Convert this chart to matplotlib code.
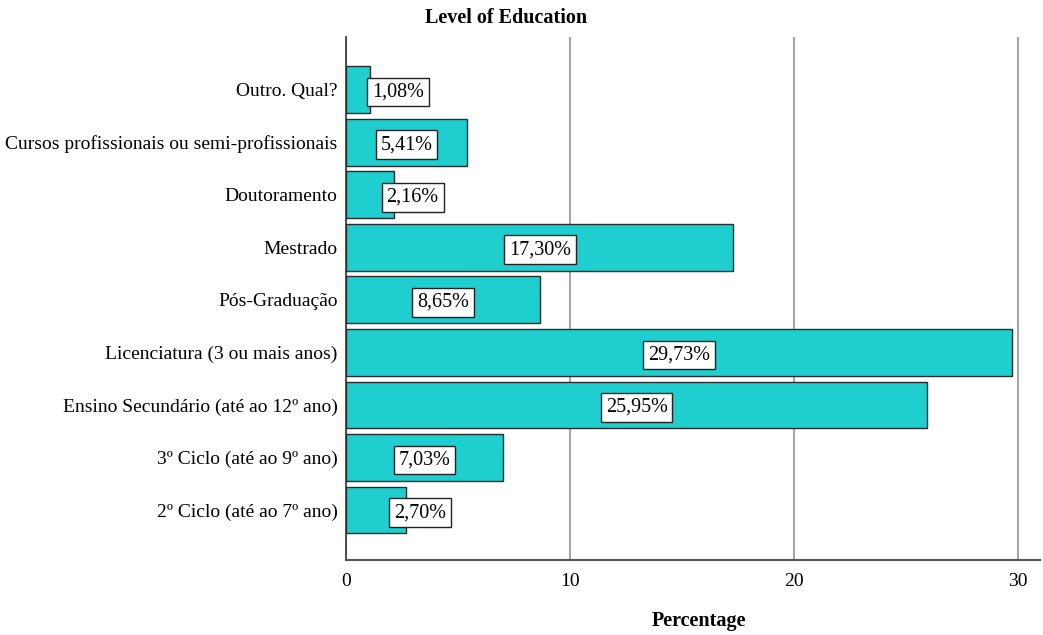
#!/usr/bin/env python3
"""Horizontal bar chart of respondents' level of education (percent)."""

import matplotlib

matplotlib.use("Agg")
import matplotlib.pyplot as plt

categories = [
    "2º Ciclo (até ao 7º ano)",
    "3º Ciclo (até ao 9º ano)",
    "Ensino Secundário (até ao 12º ano)",
    "Licenciatura (3 ou mais anos)",
    "Pós-Graduação",
    "Mestrado",
    "Doutoramento",
    "Cursos profissionais ou semi-profissionais",
    "Outro. Qual?",
]
percentages = [2.70, 7.03, 25.95, 29.73, 8.65, 17.30, 2.16, 5.41, 1.08]

BAR_COLOR = "#1fcece"
EDGE_COLOR = "#2b2b2b"
GRID_COLOR = "#a6a6a6"

plt.rcParams["font.family"] = ["Liberation Serif", "DejaVu Serif"]


def label_x(v: float) -> float:
    # short bars: keep the value box clear of the axis line
    return v / 2 if v / 2 > 2.6 else 1.68 + 0.6 * v


def fmt(v: float) -> str:
    return f"{v:.2f}".replace(".", ",") + "%"


def main() -> int:
    fig = plt.figure(figsize=(10.43, 6.35), dpi=100)
    ax = fig.add_axes([0.3317, 0.1181, 0.6658, 0.8236])

    ys = list(range(len(categories)))
    ax.barh(ys, percentages, height=0.89, color=BAR_COLOR,
            edgecolor=EDGE_COLOR, linewidth=1.0, zorder=3)

    for y, v in zip(ys, percentages):
        ax.text(label_x(v), y, fmt(v), ha="center", va="center_baseline",
                fontsize=14.5, zorder=4,
                bbox=dict(boxstyle="square,pad=0.24", facecolor="white",
                          edgecolor="#222222", linewidth=1.0))

    ax.set_xlim(0, 31)
    ax.set_ylim(-0.95, 9.0)
    ax.set_xticks([0, 10, 20, 30])
    ax.set_yticks(ys)
    ax.set_yticklabels(categories)
    ax.tick_params(axis="both", length=0, labelsize=14, pad=6)
    ax.tick_params(axis="x", pad=9)

    ax.xaxis.grid(True, color=GRID_COLOR, linewidth=1.5, zorder=0)
    ax.set_axisbelow(True)
    for side in ("top", "right"):
        ax.spines[side].set_visible(False)
    ax.spines["left"].set_color("#333333")
    ax.spines["bottom"].set_color("#555555")
    ax.spines["left"].set_linewidth(1.2)
    ax.spines["bottom"].set_linewidth(1.5)

    fig.text(506 / 1043, 1 - 18 / 635, "Level of Education", ha="center",
             va="center", fontsize=14.5, fontweight="bold")
    fig.text(699 / 1043, 1 - 621 / 635, "Percentage", ha="center",
             va="center", fontsize=14.5, fontweight="bold")

    fig.savefig("out.png", dpi=100)
    plt.close(fig)
    return 0


if __name__ == "__main__":
    raise SystemExit(main())
